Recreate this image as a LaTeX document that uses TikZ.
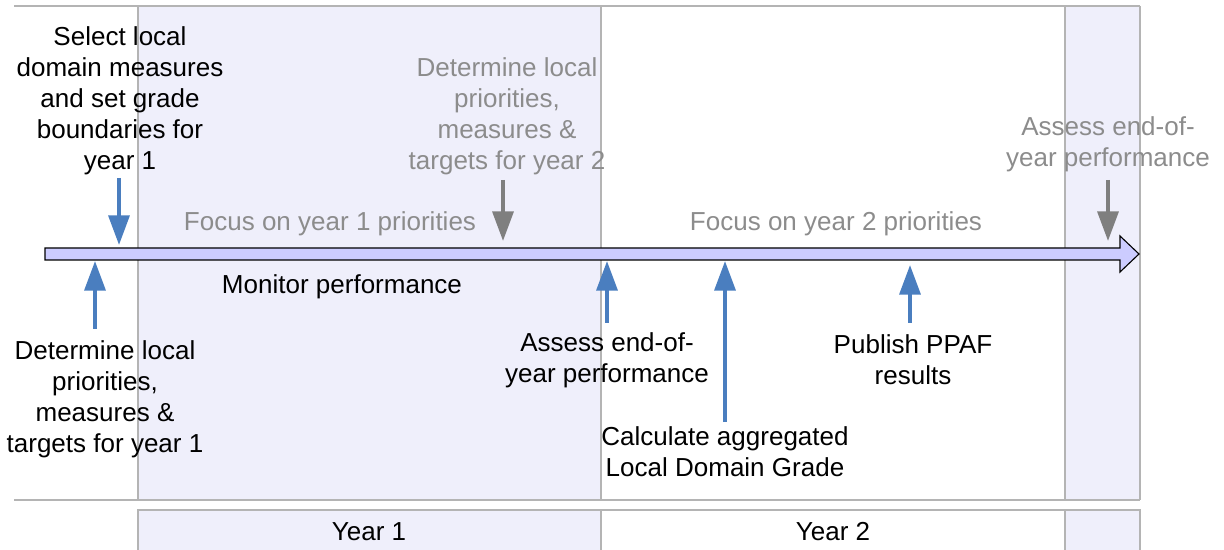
\documentclass[tikz,border=0pt]{standalone}
\usepackage{fontspec}
\setmainfont{Liberation Sans}
\usetikzlibrary{arrows.meta, positioning}
\definecolor{bandfill}{HTML}{EFEFFB}
\definecolor{linefill}{HTML}{CCCCFF}
\definecolor{eventblue}{HTML}{4A7EBF}
\definecolor{eventgray}{HTML}{7F7F7F}
\definecolor{framegray}{HTML}{B4B4B4}

\begin{document}
\begin{tikzpicture}[x=0.025cm, y=-0.025cm]
        \def\colorband{bandfill}
        \def\colornow{eventblue}
        \def\colornext{eventgray}
        \tikzset{frame/.style={draw=framegray, line width=1pt}}
        \tikzset{band/.style={frame, fill=\colorband}}
        \tikzset{event/.style={
                align=center,
                inner sep=0pt,
                font=\fontsize{18.5}{22}\selectfont
        }}
        \tikzset{nextevent/.style={event, text=\colornext!90}}
        \tikzset{connector/.style={
                -{Triangle[width=0.52cm, length=0.74cm]},
                line width=2.8pt,
                draw=\colornow
        }}
        \tikzset{nextconnector/.style={connector, draw=\colornext}}

        \useasboundingbox (0,0) rectangle (1224,550);
        \clip (0,0) rectangle (1224,550);

        % year bands and frame
        \fill[\colorband] (138,6) rectangle (601,500);
        \fill[\colorband] (1065,6) rectangle (1140,500);
        \draw[frame] (14,6) -- (1140,6);
        \draw[frame] (14,500) -- (1140,500);
        \foreach \x in {138,601,1065,1140}
                \draw[frame] (\x,6) -- (\x,500);
        \draw[band] (138,510) rectangle (601,560);
        \draw[frame] (601,510) rectangle (1065,560);
        \draw[band] (1065,510) rectangle (1140,560);
        \node[event] (year1) at (369,532) {Year 1};
        \node[event] (year2) at (833,532) {Year 2};

        % time line
        \draw[line width=0.8pt, fill=linefill] (45,248) -- (1120,248) -- (1120,236)
                -- (1139,254) -- (1120,272) -- (1120,260) -- (45,260) -- cycle;

        \node[event] (select) at (120,101) {Select local\\domain measures\\and set grade\\boundaries for\\year 1};
        \node[event] (determine1) at (105,399) {Determine local\\priorities,\\measures \&\\targets for year 1};
        \node[nextevent] (focus1) at (330,224) {Focus on year 1 priorities};
        \node[event] (monitor) at (342,287) {Monitor performance};
        \node[nextevent] (determine2) at (507,116) {Determine local\\priorities,\\measures \&\\targets for year 2};
        \node[nextevent] (focus2) at (836,224) {Focus on year 2 priorities};
        \node[nextevent] (assess2) at (1108,144) {Assess end-of-\\year performance};
        \node[event] (assess1) at (607,360) {Assess end-of-\\year performance};
        \node[event] (grade) at (725,452) {Calculate aggregated\\Local Domain Grade};
        \node[event] (publish) at (913,360) {Publish PPAF\\results};

        % arrow ends
        \coordinate (selectTail) at (119,178);
        \coordinate (selectTip) at (119,245);
        \coordinate (determine1Tail) at (95,329);
        \coordinate (determine1Tip) at (95,261);
        \coordinate (determine2Tail) at (503,180);
        \coordinate (determine2Tip) at (503,241);
        \coordinate (assess1Tail) at (607,323);
        \coordinate (assess1Tip) at (607,261);
        \coordinate (gradeTail) at (725,422);
        \coordinate (gradeTip) at (725,261);
        \coordinate (publishTail) at (910,323);
        \coordinate (publishTip) at (910,265);
        \coordinate (assess2Tail) at (1108,180);
        \coordinate (assess2Tip) at (1108,241);

        \draw[connector] (selectTail) -- (selectTip);
        \draw[connector] (determine1Tail) -- (determine1Tip);
        \draw[nextconnector] (determine2Tail) -- (determine2Tip);
        \draw[connector] (assess1Tail) -- (assess1Tip);
        \draw[connector] (gradeTail) -- (gradeTip);
        \draw[connector] (publishTail) -- (publishTip);
        \draw[nextconnector] (assess2Tail) -- (assess2Tip);
\end{tikzpicture}
\end{document}
